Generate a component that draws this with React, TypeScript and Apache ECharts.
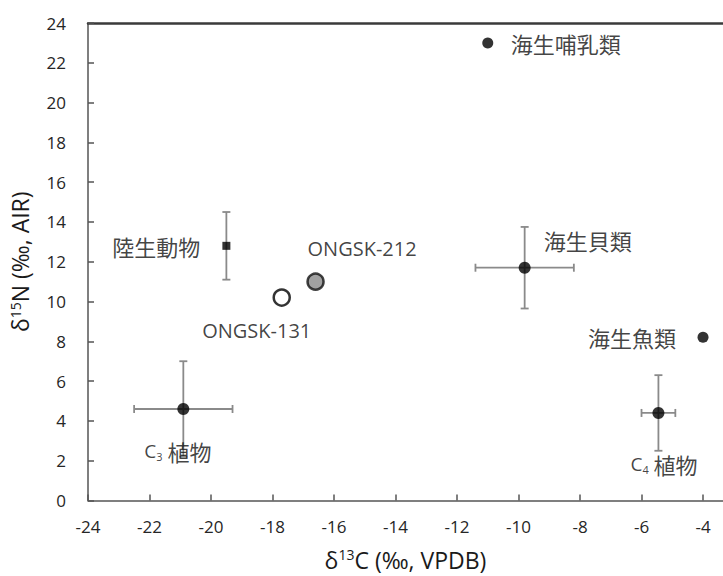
import React, { useEffect, useRef } from "react";
import * as echarts from "echarts";

// ---- data ----
const names = ["海生哺乳類", "陸生動物", "ONGSK-131", "ONGSK-212", "海生貝類", "海生魚類", "C3 植物", "C4 植物"];
const d13C = [-11.0, -19.5, -17.7, -16.6, -9.8, -4.0, -20.9, -5.45];
const d15N = [23.0, 12.8, 10.2, 11.0, 11.7, 8.2, 4.6, 4.4];
const errC = [0, 0, 0, 0, 1.6, 0, 1.6, 0.55];
const errN = [0, 1.7, 0, 0, 2.05, 0, 2.4, 1.9];
const xTicks = { min: -24, max: -3.35, interval: 2 };
const yTicks = { min: 0, max: 24, interval: 2 };

// ---- styles (not data) ----
const CJK = "'Noto Sans CJK JP', 'Noto Sans', sans-serif";
const LAT = "'Open Sans', 'Noto Sans', sans-serif";
type Look = { symbol: string; size: number; fill: string; border: string; bw: number; dx: number; dy: number; align: string };
const looks: Look[] = [
  { symbol: "circle", size: 11, fill: "#000", border: "#000", bw: 0, dx: 23, dy: 0, align: "left" },
  { symbol: "rect", size: 8, fill: "#000", border: "#000", bw: 0, dx: -26, dy: 0, align: "right" },
  { symbol: "circle", size: 16, fill: "#ffffff", border: "#000", bw: 2.5, dx: -25, dy: 33, align: "center" },
  { symbol: "circle", size: 16, fill: "#8a8a8a", border: "#111", bw: 2.5, dx: -8, dy: -33, align: "left" },
  { symbol: "circle", size: 12, fill: "#000", border: "#000", bw: 0, dx: 19, dy: -28, align: "left" },
  { symbol: "circle", size: 11, fill: "#000", border: "#000", bw: 0, dx: -27, dy: 0, align: "right" },
  { symbol: "circle", size: 12, fill: "#000", border: "#000", bw: 0, dx: -39, dy: 42, align: "left" },
  { symbol: "circle", size: 12, fill: "#000", border: "#000", bw: 0, dx: -28, dy: 51, align: "left" },
];

const TXT = "#111111";
const labelRich = {
  k: { fontFamily: CJK, fontSize: 22, color: TXT },
  l: { fontFamily: LAT, fontSize: 20, color: TXT },
  c: { fontFamily: LAT, fontSize: 19, color: TXT },
  s: { fontFamily: LAT, fontSize: 11, color: TXT, verticalAlign: "bottom", padding: [12, 0, 0, 0] },
};

function fmt(name: string): string {
  if (name.startsWith("ONGSK")) return `{l|${name}}`;
  const m = name.match(/^C(\d) (.*)$/);
  if (m) return `{c|C}{s|${m[1]}}{k| ${m[2]}}`;
  return `{k|${name}}`;
}

const titleRich = {
  d: { fontFamily: LAT, fontSize: 23, color: "#1a1a1a" },
  sup: { fontFamily: LAT, fontSize: 14, color: "#1a1a1a", verticalAlign: "top", padding: [0, 0, 10, 0] },
};

export default function App() {
  const ref = useRef<HTMLDivElement>(null);
  useEffect(() => {
    if (!ref.current) return;
    const chart = echarts.init(ref.current, undefined, { renderer: "svg" });
    const errData = d13C.map((x, i) => [x, d15N[i], errC[i], errN[i]]);
    const pts = d13C.map((x, i) => {
      const lk = looks[i];
      return {
        name: names[i],
        value: [x, d15N[i]],
        symbol: lk.symbol,
        symbolSize: lk.size,
        itemStyle: { color: lk.fill, borderColor: lk.border, borderWidth: lk.bw },
        label: {
          show: true,
          position: "inside",
          offset: [lk.dx, lk.dy],
          align: lk.align,
          verticalAlign: "middle",
          formatter: fmt(names[i]),
          rich: labelRich,
        },
      };
    });
    chart.setOption({
      animation: false,
      backgroundColor: "#ffffff",
      grid: { left: 83, top: 23, right: 0, bottom: 70, containLabel: false },
      xAxis: [
        {
          type: "value",
          min: xTicks.min,
          max: xTicks.max,
          interval: xTicks.interval,
          name: "{d|δ}{sup|13}{d|C (‰, VPDB)}",
          nameLocation: "middle",
          nameGap: 47,
          nameTextStyle: { rich: titleRich },
          axisLine: { show: true, onZero: false, lineStyle: { color: "#555", width: 1.5 } },
          axisTick: { show: true, inside: true, length: 6, lineStyle: { color: "#555", width: 1.5 } },
          axisLabel: { fontFamily: LAT, fontSize: 17, color: "#262626", margin: 17, showMaxLabel: false },
          splitLine: { show: false },
        },
        {
          type: "value",
          position: "top",
          min: xTicks.min,
          max: xTicks.max,
          axisLine: { show: true, onZero: false, lineStyle: { color: "#3a3a3a", width: 2.5 } },
          axisTick: { show: false },
          axisLabel: { show: false },
          splitLine: { show: false },
        },
      ],
      yAxis: {
        type: "value",
        min: yTicks.min,
        max: yTicks.max,
        interval: yTicks.interval,
        name: "{d|δ}{sup|15}{d|N (‰, AIR)}",
        nameLocation: "middle",
        nameRotate: 90,
        nameGap: 56,
        nameTextStyle: { rich: titleRich },
        axisLine: { show: true, onZero: false, lineStyle: { color: "#555", width: 1.5 } },
        axisTick: { show: true, inside: true, length: 6, lineStyle: { color: "#555", width: 1.5 } },
        axisLabel: { fontFamily: LAT, fontSize: 17, color: "#262626", margin: 22 },
        splitLine: { show: false },
      },
      series: [
        {
          type: "custom",
          xAxisIndex: 0,
          z: 1,
          silent: true,
          data: errData,
          renderItem: (params: any, api: any) => {
            const x = api.value(0), y = api.value(1), ex = api.value(2), ey = api.value(3);
            const style = { stroke: "#8a8a8a", lineWidth: 1.8 };
            const cap = 4;
            const children: any[] = [];
            if (ex > 0) {
              const a = api.coord([x - ex, y]);
              const b = api.coord([x + ex, y]);
              children.push({ type: "line", shape: { x1: a[0], y1: a[1], x2: b[0], y2: b[1] }, style });
              children.push({ type: "line", shape: { x1: a[0], y1: a[1] - cap, x2: a[0], y2: a[1] + cap }, style });
              children.push({ type: "line", shape: { x1: b[0], y1: b[1] - cap, x2: b[0], y2: b[1] + cap }, style });
            }
            if (ey > 0) {
              const a = api.coord([x, y - ey]);
              const b = api.coord([x, y + ey]);
              children.push({ type: "line", shape: { x1: a[0], y1: a[1], x2: b[0], y2: b[1] }, style });
              children.push({ type: "line", shape: { x1: a[0] - cap, y1: a[1], x2: a[0] + cap, y2: a[1] }, style });
              children.push({ type: "line", shape: { x1: b[0] - cap, y1: b[1], x2: b[0] + cap, y2: b[1] }, style });
            }
            return { type: "group", children };
          },
        },
        {
          type: "scatter",
          xAxisIndex: 0,
          z: 3,
          data: pts,
        },
      ],
    });
    return () => chart.dispose();
  }, []);
  return <div ref={ref} style={{ width: 723, height: 576, position: "absolute", left: 0, top: 0 }} />;
}
